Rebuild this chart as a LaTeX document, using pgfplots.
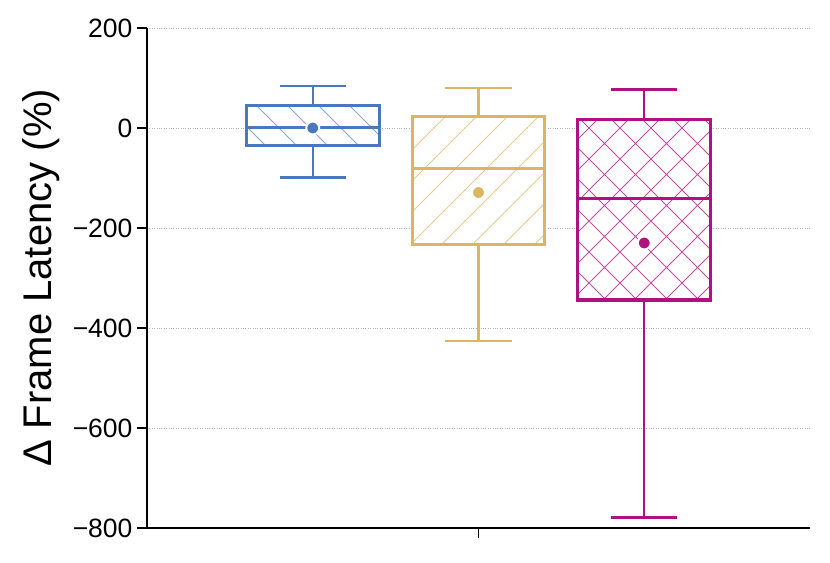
\documentclass[border=0pt]{standalone}
\usepackage{pgfplots}
\pgfplotsset{compat=1.18}
\usepgfplotslibrary{statistics}
\usetikzlibrary{patterns}
\usepackage{fontspec}
\setmainfont{Liberation Sans}
\definecolor{cblue}{HTML}{4A78BC}
\definecolor{cgold}{HTML}{DDB45F}
\definecolor{cmag}{HTML}{AF1280}
\pgfdeclarepatternformonly{myne}{\pgfqpoint{-1pt}{-1pt}}{\pgfqpoint{32pt}{32pt}}{\pgfqpoint{31pt}{31pt}}{%
  \pgfsetlinewidth{1pt}%
  \pgfpathmoveto{\pgfqpoint{-0.5pt}{-0.5pt}}\pgfpathlineto{\pgfqpoint{31.5pt}{31.5pt}}\pgfusepath{stroke}}
\pgfdeclarepatternformonly{mynw}{\pgfqpoint{-1pt}{-1pt}}{\pgfqpoint{32pt}{32pt}}{\pgfqpoint{31pt}{31pt}}{%
  \pgfsetlinewidth{1pt}%
  \pgfpathmoveto{\pgfqpoint{-0.5pt}{31.5pt}}\pgfpathlineto{\pgfqpoint{31.5pt}{-0.5pt}}\pgfusepath{stroke}}
\pgfdeclarepatternformonly{myx}{\pgfqpoint{-1pt}{-1pt}}{\pgfqpoint{32pt}{32pt}}{\pgfqpoint{31pt}{31pt}}{%
  \pgfsetlinewidth{1pt}%
  \pgfpathmoveto{\pgfqpoint{-0.5pt}{-0.5pt}}\pgfpathlineto{\pgfqpoint{31.5pt}{31.5pt}}%
  \pgfpathmoveto{\pgfqpoint{-0.5pt}{31.5pt}}\pgfpathlineto{\pgfqpoint{31.5pt}{-0.5pt}}\pgfusepath{stroke}}
\begin{document}
\begin{tikzpicture}
\begin{axis}[
  name=ax,
  scale only axis,
  width=663pt, height=500pt,
  xmin=-1, xmax=3,
  ymin=-800, ymax=200,
  axis x line*=bottom, axis y line*=left,
  axis line style={line width=1.6pt, black},
  xtick={1}, xticklabels={},
  ytick={-800,-600,-400,-200,0,200},
  yticklabels={−800,−600,−400,−200,0,200},
  tick align=outside,
  major tick length=10pt,
  tick style={line width=1.6pt, black},
  ymajorgrids,
  grid style={dotted, gray!60, line width=0.8pt},
  yticklabel style={font=\fontsize{26.5}{30}\selectfont, xshift=-1pt},
  ylabel={\fontsize{40}{46}\selectfont Δ Frame Latency (\%)},
  ylabel style={at={(axis description cs:-0.16,0.5)}, anchor=center},
  boxplot/draw direction=y,
  boxplot/box extend=0.8,
  boxplot/whisker extend=0.4,
]
% hatched box interiors
\addplot[draw=none, fill=white, postaction={pattern=mynw, pattern color=cblue!65!white}]
  coordinates {(-0.4,-36) (0.4,-36) (0.4,45) (-0.4,45)} -- cycle;
\addplot[draw=none, fill=white, postaction={pattern=myne, pattern color=cgold!70!white}]
  coordinates {(0.6,-234) (1.4,-234) (1.4,22) (0.6,22)} -- cycle;
\addplot[draw=none, fill=white, postaction={pattern=myx, pattern color=cmag!75!white}]
  coordinates {(1.6,-344) (2.4,-344) (2.4,16) (1.6,16)} -- cycle;
% box plots
\addplot[draw=cblue, line width=2.2pt,
  boxplot prepared={lower whisker=-99, lower quartile=-36, median=1, upper quartile=45, upper whisker=84, draw position=0},
  boxplot/every box/.style={draw=cblue, line width=3pt},
  boxplot/every whisker/.style={draw=cblue, line width=2.2pt},
  boxplot/every median/.style={draw=cblue, line width=3pt}
] coordinates {};
\addplot[draw=cgold, line width=2.2pt,
  boxplot prepared={lower whisker=-426, lower quartile=-234, median=-82, upper quartile=22, upper whisker=80, draw position=1},
  boxplot/every box/.style={draw=cgold, line width=3pt},
  boxplot/every whisker/.style={draw=cgold, line width=2.2pt},
  boxplot/every median/.style={draw=cgold, line width=3pt}
] coordinates {};
\addplot[draw=cmag, line width=2.2pt,
  boxplot prepared={lower whisker=-779, lower quartile=-344, median=-142, upper quartile=16, upper whisker=77, draw position=2},
  boxplot/every box/.style={draw=cmag, line width=3pt},
  boxplot/every whisker/.style={draw=cmag, line width=2.2pt},
  boxplot/every median/.style={draw=cmag, line width=3pt}
] coordinates {};
\addplot[only marks, mark=*, mark size=6.5pt, mark options={fill=cblue, draw=white, line width=2pt}] coordinates {(0,0)};
\addplot[only marks, mark=*, mark size=6.5pt, mark options={fill=cgold, draw=white, line width=2pt}] coordinates {(1,-129)};
\addplot[only marks, mark=*, mark size=6.5pt, mark options={fill=cmag, draw=white, line width=2pt}] coordinates {(2,-230)};
\end{axis}
\path (ax.south west) ++(-147pt,-34pt) coordinate (bl);
\path (ax.north east) ++(20pt,28pt) coordinate (tr);
\useasboundingbox (bl) rectangle (tr);
\end{tikzpicture}
\end{document}
